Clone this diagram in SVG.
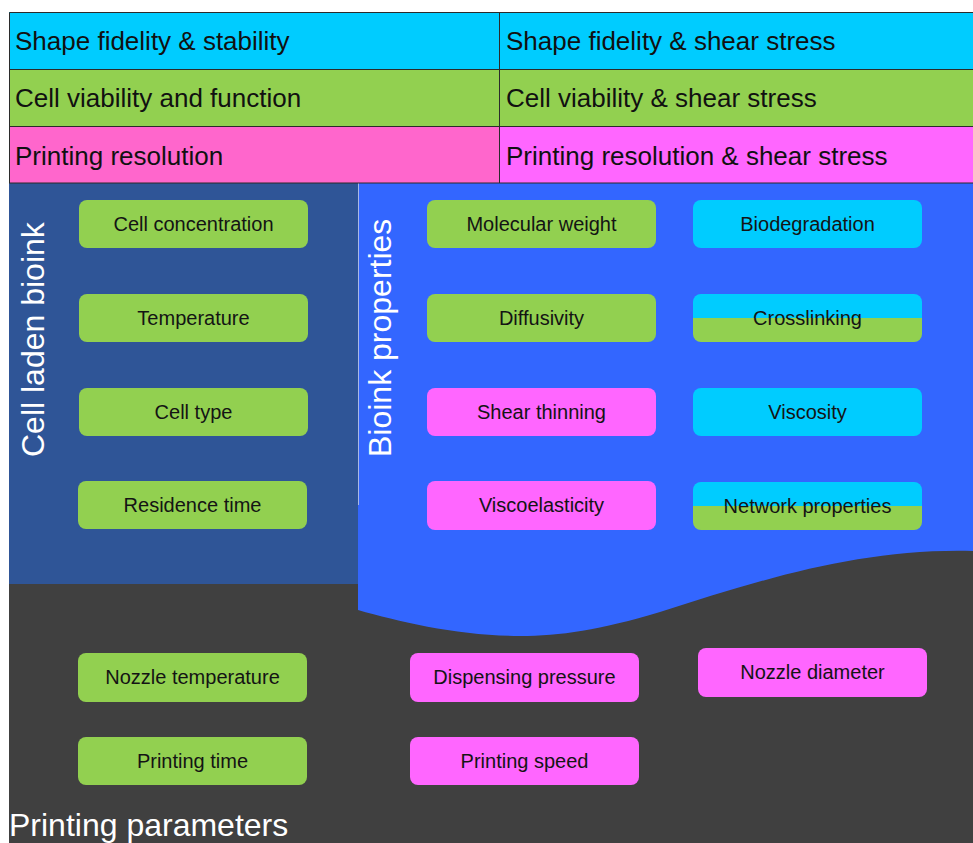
<svg xmlns="http://www.w3.org/2000/svg" width="973" height="843" viewBox="0 0 973 843">
<style>
  .hdr { font-family: "Liberation Sans", Arial, sans-serif; font-size: 26px; fill: #111; }
  .lbl { font-family: "Liberation Sans", Arial, sans-serif; font-size: 20px; fill: #141414; text-anchor: middle; }
  .big { font-family: "Liberation Sans", Arial, sans-serif; font-size: 32px; fill: #fff; }
  .hline { stroke: #2b2b2b; stroke-width: 1; fill: none; }
  .g { fill: #92D050; }
  .c { fill: #00CCFF; }
  .p { fill: #FF66FF; }
  .s { fill: url(#split); }
</style>
<defs>
  <linearGradient id="split" x1="0" y1="0" x2="0" y2="1">
    <stop offset="0" stop-color="#00CCFF"/>
    <stop offset="0.5" stop-color="#00CCFF"/>
    <stop offset="0.5" stop-color="#92D050"/>
    <stop offset="1" stop-color="#92D050"/>
  </linearGradient>
</defs>
<rect x="0" y="0" width="973" height="843" fill="#ffffff"/>

<g id="background">
  <rect x="9" y="183" width="964" height="660" fill="#404040"/>
  <rect x="9" y="183" width="349" height="401" fill="#2F5597"/>
  <path d="M358,183 H973 V551 C860,548 760,580 660,612 C600,630 560,636 520,636 C460,636 400,622 358,610 Z" fill="#3366FF"/>
  <line x1="358.5" y1="183" x2="358.5" y2="505" stroke="#A9B8E6" stroke-width="1"/>
</g>

<g id="header">
  <rect x="9" y="12" width="490" height="57" fill="#00CCFF"/>
  <rect x="499" y="12" width="474" height="57" fill="#00CCFF"/>
  <rect x="9" y="69" width="490" height="57" fill="#92D050"/>
  <rect x="499" y="69" width="474" height="57" fill="#92D050"/>
  <rect x="9" y="126" width="490" height="57" fill="#FF66CC"/>
  <rect x="499" y="126" width="474" height="57" fill="#FF66FF"/>
  <path class="hline" d="M9.5,183 V12.5 H973 M9,69.5 H973 M9,126.5 H973 M9,183 H973 M499.5,12 V183"/>
  <text class="hdr" x="15" y="50">Shape fidelity &amp; stability</text>
  <text class="hdr" x="506" y="50">Shape fidelity &amp; shear stress</text>
  <text class="hdr" x="15" y="107">Cell viability and function</text>
  <text class="hdr" x="506" y="107">Cell viability &amp; shear stress</text>
  <text class="hdr" x="15" y="165">Printing resolution</text>
  <text class="hdr" x="506" y="165">Printing resolution &amp; shear stress</text>
</g>

<g id="section-labels">
  <text class="big" transform="translate(44,457) rotate(-90)">Cell laden bioink</text>
  <text class="big" transform="translate(391,457) rotate(-90)">Bioink properties</text>
  <text class="big" x="9" y="836">Printing parameters</text>
</g>

<g id="n-cell-concentration"><rect class="g" x="79" y="200" width="229" height="48" rx="8"/><text class="lbl" x="193.5" y="231">Cell concentration</text></g>
<g id="n-temperature"><rect class="g" x="79" y="294" width="229" height="48" rx="8"/><text class="lbl" x="193.5" y="325">Temperature</text></g>
<g id="n-cell-type"><rect class="g" x="79" y="388" width="229" height="48" rx="8"/><text class="lbl" x="193.5" y="419">Cell type</text></g>
<g id="n-residence-time"><rect class="g" x="78" y="481" width="229" height="48" rx="8"/><text class="lbl" x="192.5" y="512">Residence time</text></g>

<g id="n-molecular-weight"><rect class="g" x="427" y="200" width="229" height="48" rx="8"/><text class="lbl" x="541.5" y="231">Molecular weight</text></g>
<g id="n-diffusivity"><rect class="g" x="427" y="294" width="229" height="48" rx="8"/><text class="lbl" x="541.5" y="325">Diffusivity</text></g>
<g id="n-shear-thinning"><rect class="p" x="427" y="388" width="229" height="48" rx="8"/><text class="lbl" x="541.5" y="419">Shear thinning</text></g>
<g id="n-viscoelasticity"><rect class="p" x="427" y="481" width="229" height="49" rx="8"/><text class="lbl" x="541.5" y="512">Viscoelasticity</text></g>

<g id="n-biodegradation"><rect class="c" x="693" y="200" width="229" height="48" rx="8"/><text class="lbl" x="807.5" y="231">Biodegradation</text></g>
<g id="n-crosslinking"><rect class="s" x="693" y="294" width="229" height="48" rx="8"/><text class="lbl" x="807.5" y="325">Crosslinking</text></g>
<g id="n-viscosity"><rect class="c" x="693" y="388" width="229" height="48" rx="8"/><text class="lbl" x="807.5" y="419">Viscosity</text></g>
<g id="n-network-properties"><rect class="s" x="693" y="482" width="229" height="48" rx="8"/><text class="lbl" x="807.5" y="513">Network properties</text></g>

<g id="n-nozzle-temperature"><rect class="g" x="78" y="653" width="229" height="49" rx="8"/><text class="lbl" x="192.5" y="684">Nozzle temperature</text></g>
<g id="n-printing-time"><rect class="g" x="78" y="737" width="229" height="48" rx="8"/><text class="lbl" x="192.5" y="768">Printing time</text></g>
<g id="n-dispensing-pressure"><rect class="p" x="410" y="653" width="229" height="49" rx="8"/><text class="lbl" x="524.5" y="684">Dispensing pressure</text></g>
<g id="n-printing-speed"><rect class="p" x="410" y="737" width="229" height="48" rx="8"/><text class="lbl" x="524.5" y="768">Printing speed</text></g>
<g id="n-nozzle-diameter"><rect class="p" x="698" y="648" width="229" height="49" rx="8"/><text class="lbl" x="812.5" y="679">Nozzle diameter</text></g>

<g id="connectors"></g>
</svg>
